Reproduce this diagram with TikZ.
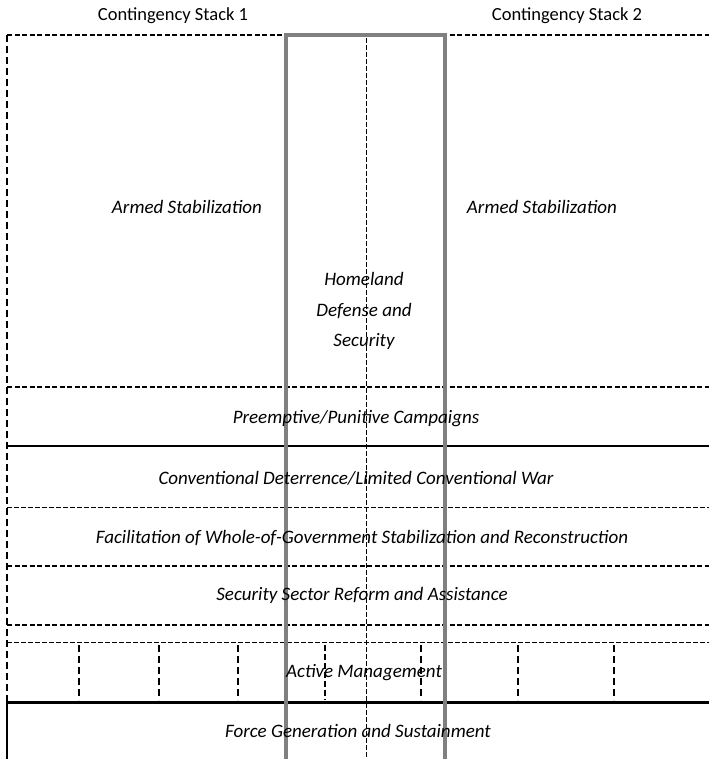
\documentclass[tikz,border=0pt]{standalone}
\usepackage{fontspec}
\setmainfont{Carlito}
\usepackage{tikz}
\usetikzlibrary{positioning,calc}

\begin{document}
\begin{tikzpicture}[x=1pt, y=-1pt,
    band/.style={font=\fontsize{19}{22}\selectfont\itshape, inner sep=0pt},
    head/.style={font=\fontsize{18.5}{22}\selectfont, inner sep=0pt},
    heavydash/.style={line width=2.6pt, dash pattern=on 5pt off 2.5pt},
    thindash/.style={line width=0.9pt, dash pattern=on 5pt off 2pt},
    tickdash/.style={line width=2.4pt, dash pattern=on 7pt off 4pt}]

    \useasboundingbox (0,0) rectangle (709,759);

    % headings
    \node[head] (s1) at (173,16) {Contingency Stack 1};
    \node[head] (s2) at (567,16) {Contingency Stack 2};

    % outer frame
    \draw[heavydash] (7,35) -- (709,35);
    \draw[line width=2pt, dash pattern=on 7pt off 4pt] (7,35) -- (7,702);
    \draw[line width=2pt] (7,702) -- (7,759);

    % layer separators
    \draw[heavydash] (7,387) -- (709,387);
    \draw[line width=1.8pt] (7,446) -- (709,446);
    \draw[thindash] (7,507) -- (709,507);
    \draw[heavydash] (7,566) -- (709,566);
    \draw[heavydash] (7,625) -- (709,625);
    \draw[thindash] (7,642) -- (709,642);
    \draw[line width=3pt] (7,702) -- (709,702);

    % active management ticks
    \foreach \x in {79,159,238,421,518,614}
        \draw[tickdash] (\x,645) -- (\x,700);
    \draw[line width=1.2pt, dash pattern=on 6pt off 3pt] (325,645) -- (325,700);

    % homeland column
    \draw[thindash, line width=0.8pt] (366,38) -- (366,759);
    \draw[black!50, line width=3.2pt] (286,759) -- (286,35) -- (445,35) -- (445,759);

    % labels
    \node[band] (as1) at (187,207) {Armed Stabilization};
    \node[band] (as2) at (542,207) {Armed Stabilization};
    \node[band, align=center, font=\fontsize{19}{30.5}\selectfont\itshape] (hds) at (364,311) {Homeland\\Defense and\\Security};
    \node[band] (ppc) at (356,419) {Preemptive/Punitive Campaigns};
    \node[band] (cdw) at (356,478) {Conventional Deterrence/Limited Conventional War};
    \node[band] (fwg) at (362,538) {Facilitation of Whole-of-Government Stabilization and Reconstruction};
    \node[band] (ssr) at (362,595) {Security Sector Reform and Assistance};
    \node[band] (am) at (364,673) {Active Management};
    \node[band] (fgs) at (358,731) {Force Generation and Sustainment};
\end{tikzpicture}
\end{document}
